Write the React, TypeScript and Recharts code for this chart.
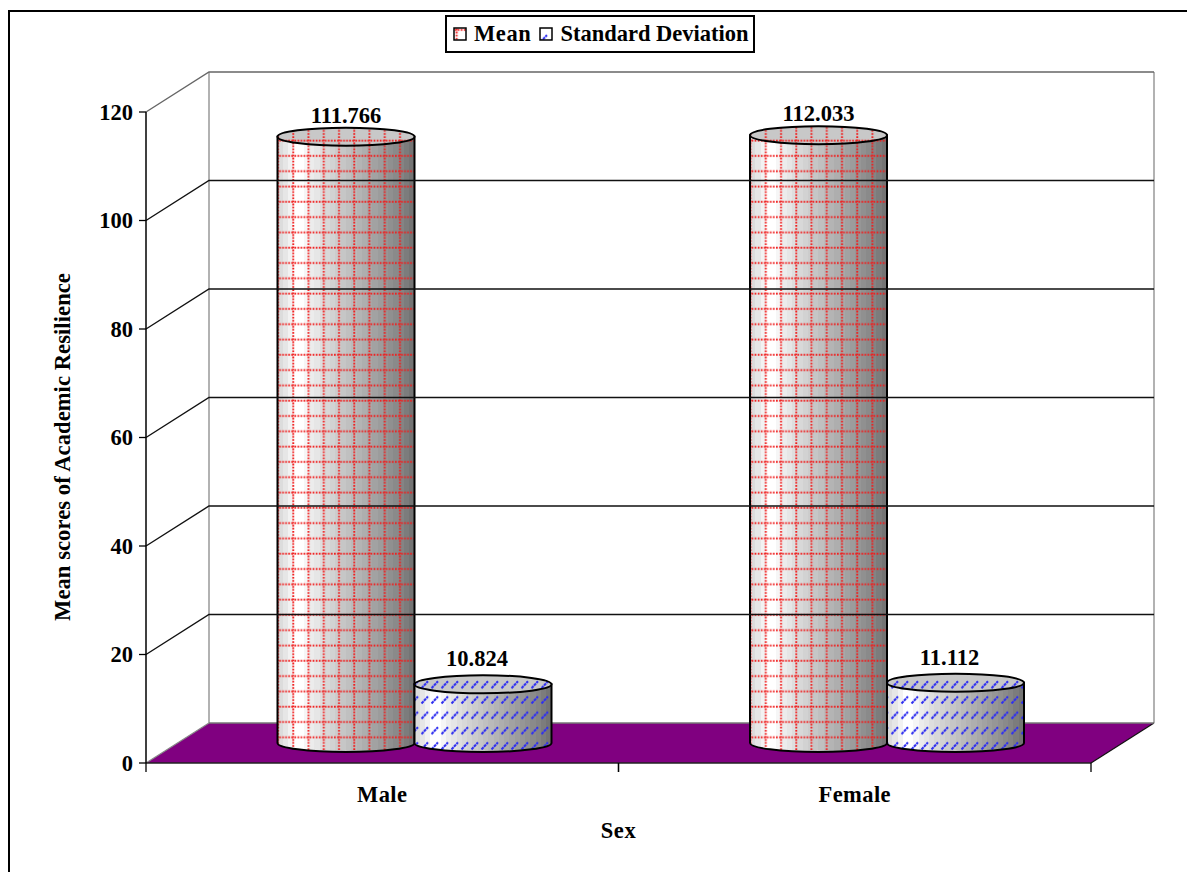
import React from "react";
import { Bar, BarChart, LabelList, Legend, ReferenceArea, ReferenceLine, XAxis, YAxis } from "recharts";

const categories = ["Male", "Female"];
const meanValues = [111.766, 112.033];
const deviationValues = [10.824, 11.112];
const valueTicks = [0, 20, 40, 60, 80, 100, 120];

const rows = categories.map((sex, i) => ({ sex, mean: meanValues[i], deviation: deviationValues[i] }));

const SERIF = '"Liberation Serif", "Times New Roman", serif';
const DEPTH_X = 63;
const DEPTH_Y = 40;
const SHIFT_X = DEPTH_X / 2 + 1;
const SHIFT_Y = DEPTH_Y / 2;
const RY = 9;

// Banded cylinder shading, light on the left and falling to dark grey on the right.
const shadeBands = [
  "#dcdcdc", "#e6e6e6", "#f2f2f2", "#ffffff", "#ffffff", "#f6f6f6", "#ececec", "#e6e6e6",
  "#dedede", "#d8d8d8", "#d2d2d2", "#cccccc", "#c6c6c6", "#c0c0c0", "#bababa", "#b4b4b4",
  "#aeaeae", "#a8a8a8", "#a2a2a2", "#9c9c9c", "#969696", "#909090", "#8a8a8a", "#848484",
  "#7c7c7c", "#747474",
];

function ChartDefs() {
  return (
    <defs>
      <linearGradient id="cylinderShade" x1="0" x2="1" y1="0" y2="0">
        {shadeBands.flatMap((c, i) => [
          <stop key={`a${i}`} offset={i / shadeBands.length} stopColor={c} />,
          <stop key={`b${i}`} offset={(i + 1) / shadeBands.length} stopColor={c} />,
        ])}
      </linearGradient>
      <pattern id="redGrid" patternUnits="userSpaceOnUse" width="15.242" height="15.3" patternTransform="translate(-1.3,-4.5)">
        <line x1="0" x2="15.242" y1="7.5" y2="7.5" stroke="#f01e1e" strokeWidth="1.9" strokeDasharray="1.7 1.348" />
        <line x1="5" x2="5" y1="0" y2="15.3" stroke="#f01e1e" strokeWidth="1.9" strokeDasharray="1.7 1.36" />
      </pattern>
      <pattern id="blueDash" patternUnits="userSpaceOnUse" width="10" height="15.3" patternTransform="translate(0,4)">
        <line x1="1.5" x2="8" y1="11" y2="4" stroke="#2f2ff0" strokeWidth="2.1" strokeDasharray="3 0.6" />
      </pattern>
    </defs>
  );
}

// Back wall, side wall edges and the purple floor, spanning the full value range.
function RoomShape({ x, y, width, height }: any) {
  const bottom = y + height;
  const right = x + width;
  return (
    <g>
      <ChartDefs />
      <polygon
        points={`${x},${bottom} ${x + DEPTH_X},${bottom - DEPTH_Y} ${right + DEPTH_X},${bottom - DEPTH_Y} ${right},${bottom}`}
        fill="#800080"
      />
      <line x1={x + DEPTH_X} x2={x + DEPTH_X} y1={y - DEPTH_Y} y2={bottom - DEPTH_Y} stroke="#999" strokeWidth={1.5} />
      <line x1={right + DEPTH_X} x2={right + DEPTH_X} y1={y - DEPTH_Y} y2={bottom - DEPTH_Y} stroke="#999" strokeWidth={1.5} />
      <line x1={x} x2={x + DEPTH_X} y1={bottom} y2={bottom - DEPTH_Y} stroke="#888" strokeWidth={1.2} />
      <line x1={right} x2={right + DEPTH_X} y1={bottom} y2={bottom - DEPTH_Y} stroke="#111" strokeWidth={1.2} />
      <line x1={x + DEPTH_X} x2={right + DEPTH_X} y1={bottom - DEPTH_Y} y2={bottom - DEPTH_Y} stroke="#777" strokeWidth={1.5} />
      <line x1={x} x2={right} y1={bottom} y2={bottom} stroke="#222" strokeWidth={1.5} />
    </g>
  );
}

function GridShape({ x1, y1, x2, gridColor }: any) {
  const backY = y1 - DEPTH_Y;
  return (
    <polyline
      points={`${x1},${y1} ${x1 + DEPTH_X},${backY} ${x2 + DEPTH_X},${backY}`}
      fill="none"
      stroke={gridColor}
      strokeWidth={1.4}
    />
  );
}

function Cylinder({ x, y, width, height, patternId }: any) {
  const left = x + SHIFT_X;
  const right = left + width;
  const top = y - SHIFT_Y;
  const base = top + height;
  const rx = width / 2;
  const body = `M${left},${top} L${left},${base} A${rx},${RY} 0 0 0 ${right},${base} L${right},${top} Z`;
  return (
    <g>
      <path d={body} fill="url(#cylinderShade)" />
      <path d={body} fill={`url(#${patternId})`} stroke="#000" strokeWidth={2} />
      <ellipse cx={left + rx} cy={top} rx={rx} ry={RY} fill="#c8c8c8" />
      <ellipse cx={left + rx} cy={top} rx={rx} ry={RY} fill={`url(#${patternId})`} stroke="#000" strokeWidth={2} />
    </g>
  );
}

const valueLabel = (dx: number, dy: number) => ({ x, y, width, value }: any) => (
  <text
    x={x + width / 2 + SHIFT_X + dx}
    y={y + dy}
    textAnchor="middle"
    fontFamily={SERIF}
    fontWeight="bold"
    fontSize={22.5}
    fill="#000"
  >
    {Number(value).toFixed(3)}
  </text>
);

function CategoryTick({ x, y, width, visibleTicksCount, payload }: any) {
  const half = width / (2 * visibleTicksCount);
  const axisY = y - 21;
  return (
    <g>
      <line x1={x - half} x2={x - half} y1={axisY} y2={axisY + 9} stroke="#000" strokeWidth={1.3} />
      <line x1={x + half} x2={x + half} y1={axisY} y2={axisY + 9} stroke="#000" strokeWidth={1.3} />
      <text x={x} y={y + 18} textAnchor="middle" fontFamily={SERIF} fontWeight="bold" fontSize={22.5} letterSpacing={0.4} fill="#000">
        {payload.value}
      </text>
    </g>
  );
}

function LegendBox() {
  const swatch = (id: string) => (
    <svg width={14} height={14} style={{ flex: "none" }}>
      <rect x={1} y={1} width={12} height={12} fill="#fff" />
      <rect x={1} y={1} width={12} height={12} fill={`url(#${id})`} stroke="#000" strokeWidth={1.5} />
    </svg>
  );
  return (
    <div
      style={{
        boxSizing: "border-box",
        width: 310,
        height: 38,
        border: "2px solid #000",
        background: "#fff",
        display: "flex",
        alignItems: "center",
        paddingLeft: 6,
        fontFamily: SERIF,
        fontWeight: "bold",
        fontSize: 22.5,
        color: "#000",
        whiteSpace: "nowrap",
      }}
    >
      {swatch("redGrid")}
      <span style={{ marginLeft: 7, marginRight: 8, letterSpacing: 0.6 }}>Mean</span>
      {swatch("blueDash")}
      <span style={{ marginLeft: 7 }}>Standard Deviation</span>
    </div>
  );
}

export default function App() {
  return (
    <div style={{ position: "absolute", left: 0, top: 0, width: 1187, height: 872, overflow: "hidden", background: "#fff" }}>
      <div style={{ position: "absolute", left: 8, top: 10, right: 0, bottom: -4, borderLeft: "2px solid #000", borderTop: "2px solid #000" }} />
      <BarChart
        width={1187}
        height={872}
        data={rows}
        margin={{ top: 74, right: 96, bottom: 0, left: 0 }}
        barGap={0}
        barSize={137}
        style={{ position: "relative" }}
      >
        <XAxis
          dataKey="sex"
          height={109}
          tickLine={false}
          axisLine={false}
          tickSize={7}
          tickMargin={14}
          tick={<CategoryTick />}
          label={{
            content: ({ viewBox }: any) => (
              <text x={viewBox.x + viewBox.width / 2} y={838} textAnchor="middle" fontFamily={SERIF} fontWeight="bold" fontSize={22.5} letterSpacing={0.6} fill="#000">
                Sex
              </text>
            ),
          }}
        />
        <YAxis
          type="number"
          domain={[0, 120]}
          ticks={valueTicks}
          width={146}
          interval={0}
          tickSize={7}
          tickMargin={6}
          axisLine={{ stroke: "#000", strokeWidth: 1.5 }}
          tickLine={{ stroke: "#000", strokeWidth: 1.3 }}
          tick={{ fontFamily: SERIF, fontWeight: "bold", fontSize: 22.5, fill: "#000" }}
          label={{
            content: () => (
              <text
                transform="translate(70,447) rotate(-90)"
                textAnchor="middle"
                fontFamily={SERIF}
                fontWeight="bold"
                fontSize={22.5}
                letterSpacing={0.1}
                fill="#000"
              >
                Mean scores of Academic Resilience
              </text>
            ),
          }}
        />
        <Legend
          verticalAlign="top"
          height={38}
          content={<LegendBox />}
          wrapperStyle={{ top: 15, left: 445, width: 310, height: 38 }}
        />
        <ReferenceArea y1={0} y2={120} ifOverflow="visible" shape={<RoomShape />} />
        {valueTicks.slice(1).map((t) => (
          <ReferenceLine
            key={t}
            y={t}
            ifOverflow="visible"
            shape={<GridShape gridColor={t === 120 ? "#666" : "#111"} />}
          />
        ))}
        <Bar dataKey="mean" isAnimationActive={false} shape={<Cylinder patternId="redGrid" />}>
          <LabelList dataKey="mean" content={valueLabel(0, -34)} />
        </Bar>
        <Bar dataKey="deviation" isAnimationActive={false} shape={<Cylinder patternId="blueDash" />}>
          <LabelList dataKey="deviation" content={valueLabel(-6, -38)} />
        </Bar>
      </BarChart>
    </div>
  );
}
